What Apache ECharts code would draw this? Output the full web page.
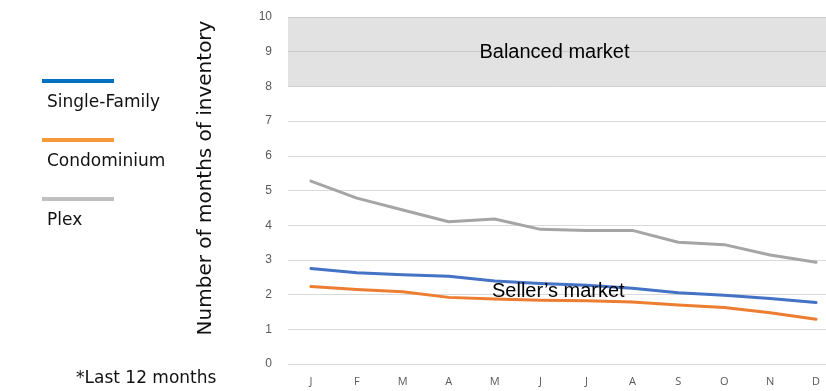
<!DOCTYPE html>
<html>
<head>
<meta charset="utf-8">
<script src="https://cdn.jsdelivr.net/npm/echarts@6/dist/echarts.min.js"></script>
<style>
  html, body { margin: 0; padding: 0; background: #fff; }
  #chart { width: 826px; height: 391px; }
</style>
</head>
<body>
<div id="chart"></div>
<script>
// Months of inventory, last 12 months
const months = ['J', 'F', 'M', 'A', 'M', 'J', 'J', 'A', 'S', 'O', 'N', 'D'];
const singleFamily = [2.75, 2.63, 2.57, 2.53, 2.39, 2.32, 2.27, 2.18, 2.05, 1.98, 1.89, 1.77];
const condominium = [2.23, 2.15, 2.08, 1.92, 1.87, 1.84, 1.82, 1.79, 1.70, 1.63, 1.48, 1.29];
const plex = [5.27, 4.78, 4.44, 4.10, 4.18, 3.88, 3.85, 3.85, 3.51, 3.44, 3.14, 2.93];
const yTicks = [0, 10, 1];            // min, max, interval
const balancedRange = [8, 10];

const seriesDefs = [
  { name: 'Single-Family', data: singleFamily, color: '#4472C4', key: '#0070C0' },
  { name: 'Condominium', data: condominium, color: '#ED7D31', key: '#F79A3A' },
  { name: 'Plex', data: plex, color: '#A5A5A5', key: '#BFBFBF' }
];

const chart = echarts.init(document.getElementById('chart'), null, { renderer: 'canvas' });

const series = seriesDefs.map((s) => ({
  name: s.name,
  type: 'line',
  data: s.data,
  symbol: 'none',
  z: 3,
  lineStyle: { color: s.color, width: 3, cap: 'round', join: 'round' },
  itemStyle: { color: s.color }
}));

// shaded band for the balanced market zone
series[0].markArea = {
  silent: true,
  itemStyle: { color: 'rgba(170,170,170,0.34)' },
  label: {
    show: true, position: 'inside', color: '#000',
    fontFamily: 'Liberation Sans', fontSize: 20, offset: [-9, 1]
  },
  data: [[{ yAxis: balancedRange[0], name: 'Balanced market' }, { yAxis: balancedRange[1] }]]
};

// legend keys drawn on the left
const keyGraphics = [];
seriesDefs.forEach((s, i) => {
  const y = 81 + i * 59;
  keyGraphics.push({
    type: 'rect', left: 42, top: y - 2,
    shape: { width: 72, height: 4 },
    style: { fill: s.key }, silent: true
  });
  keyGraphics.push({
    type: 'text', left: 47, top: y + 13,
    style: { text: s.name, fill: '#111', font: '17px "DejaVu Sans"' }, silent: true
  });
});

chart.setOption({
  animation: false,
  backgroundColor: '#fff',
  // plot area runs past the right edge of the canvas
  grid: { left: 288, top: 17, width: 551, height: 347, containLabel: false, outerBoundsMode: 'none' },
  xAxis: {
    type: 'category',
    data: months,
    boundaryGap: true,
    axisLine: { show: false },
    axisTick: { show: false },
    axisLabel: { color: '#595959', fontFamily: 'Open Sans', fontSize: 11, margin: 12 }
  },
  yAxis: {
    type: 'value',
    min: yTicks[0], max: yTicks[1], interval: yTicks[2],
    axisLine: { show: false },
    axisTick: { show: false },
    axisLabel: { color: '#595959', fontFamily: 'Liberation Sans', fontSize: 12, margin: 16 },
    splitLine: { lineStyle: { color: '#d9d9d9', width: 1 } }
  },
  series: series,
  graphic: keyGraphics.concat([
    {
      type: 'text', x: 206, y: 178, rotation: Math.PI / 2,
      style: {
        text: 'Number of months of inventory', fill: '#111',
        font: '20px "DejaVu Sans"', align: 'center', verticalAlign: 'middle'
      },
      silent: true
    },
    {
      type: 'text', left: 492, top: 281,
      style: { text: 'Seller\u2019s market', fill: '#000', font: '20px "Liberation Sans"' },
      z: 10, silent: true
    },
    {
      type: 'text', left: 76, top: 370,
      style: { text: '*Last 12 months', fill: '#111', font: '17px "DejaVu Sans"' },
      silent: true
    }
  ])
});
</script>
</body>
</html>
